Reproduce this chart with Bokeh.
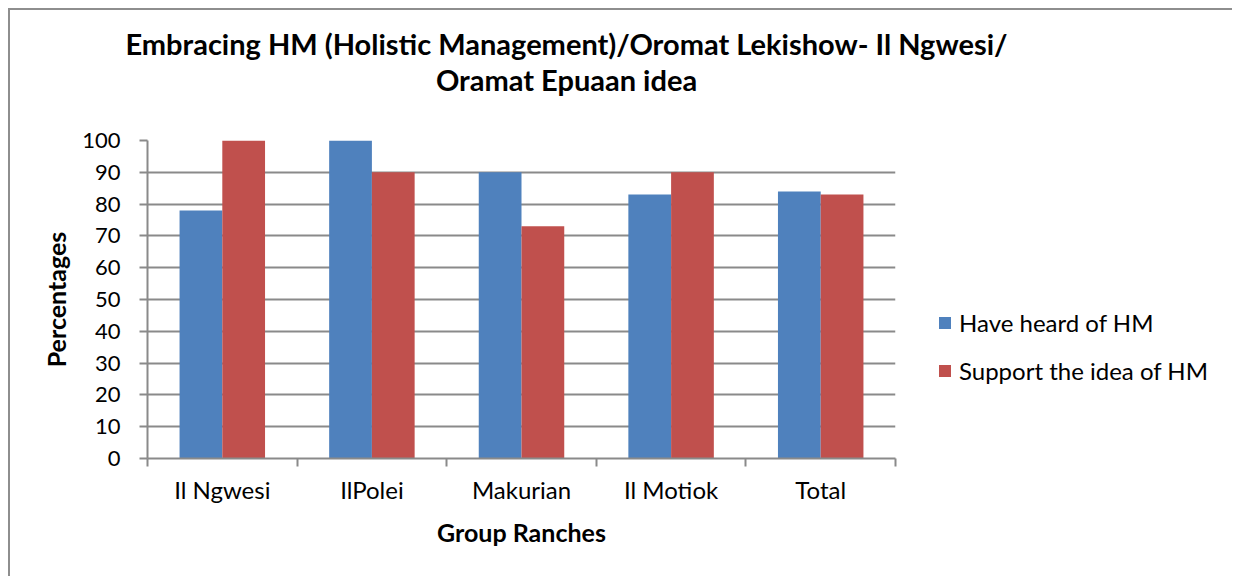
import numpy as np
from bokeh.plotting import figure
from bokeh.layouts import column, row
from bokeh.models import (Range1d, FixedTicker, SingleIntervalTicker, Legend, LegendItem, Label)
from bokeh.embed import file_html
from bokeh.resources import INLINE

# ---- data ----
categories = ["Il Ngwesi", "IlPolei", "Makurian", "Il Motiok", "Total"]
heard = [78, 100, 90, 83, 84]
support = [100, 90, 73, 90, 83]
series_names = ["Have heard of HM", "Support the idea of HM"]
title_lines = ["Embracing HM (Holistic Management)/Oromat Lekishow- Il Ngwesi/",
               "Oramat Epuaan idea"]

FONT = "Lato"
GRID = "#8a8a8a"
BLUE = "#4F81BD"
RED = "#C0504D"

n = len(categories)
centers = np.arange(n) + 0.5
bw = 1 / 3.5


def blank(width, height):
    f = figure(width=width, height=height, output_backend="svg", toolbar_location=None,
               x_range=Range1d(0, 1), y_range=Range1d(0, 1), tools="",
               x_axis_location=None, y_axis_location=None,
               min_border=0)
    f.outline_line_color = None
    f.grid.visible = False
    return f


# ---- title strip ----
TH = 100
tf = blank(1222, TH)
for i, line in enumerate(title_lines):
    tf.add_layout(Label(x=556, y=67 - 36 * i, x_units="screen", y_units="screen",
                        text=line, text_align="center", text_baseline="alphabetic",
                        text_font=FONT, text_font_style="bold", text_font_size="29px",
                        text_color="black"))

# ---- main chart ----
MH = 466
p = figure(width=895, height=MH, output_backend="svg", toolbar_location=None,
           x_range=Range1d(0, n), y_range=Range1d(0, 100),
           min_border_left=137, min_border_right=10,
           min_border_top=30, min_border_bottom=118,
           tools="")
p.outline_line_color = None

r1 = p.vbar(x=centers - bw / 2, top=heard, width=bw, fill_color=BLUE, line_color=None)
r2 = p.vbar(x=centers + bw / 2, top=support, width=bw, fill_color=RED, line_color=None)

# y axis
p.yaxis.ticker = SingleIntervalTicker(interval=10, num_minor_ticks=0)
p.yaxis.axis_line_color = GRID
p.yaxis.axis_line_width = 2
p.yaxis.major_tick_line_color = GRID
p.yaxis.major_tick_line_width = 2
p.yaxis.major_tick_out = 8
p.yaxis.major_tick_in = 0
p.yaxis.minor_tick_line_color = None
p.yaxis.major_label_text_font = FONT
p.yaxis.major_label_text_font_size = "22px"
p.yaxis.major_label_text_color = "black"
p.yaxis.major_label_standoff = 19
p.yaxis.axis_label = "Percentages"
p.yaxis.axis_label_text_font = FONT
p.yaxis.axis_label_text_font_style = "bold"
p.yaxis.axis_label_text_font_size = "25px"
p.yaxis.axis_label_text_color = "black"
p.yaxis.axis_label_standoff = 8

# x axis
p.xaxis.ticker = FixedTicker(ticks=list(centers), minor_ticks=list(np.arange(n + 1)))
p.xaxis.major_label_overrides = {float(c): lab for c, lab in zip(centers, categories)}
p.xaxis.axis_line_color = GRID
p.xaxis.axis_line_width = 2
p.xaxis.major_tick_line_color = None
p.xaxis.major_tick_out = 0
p.xaxis.major_tick_in = 0
p.xaxis.minor_tick_line_color = GRID
p.xaxis.minor_tick_line_width = 2
p.xaxis.minor_tick_out = 8
p.xaxis.minor_tick_in = 0
p.xaxis.major_label_text_font = FONT
p.xaxis.major_label_text_font_size = "24px"
p.xaxis.major_label_text_color = "black"
p.xaxis.major_label_standoff = 8
p.xaxis.axis_label = "Group Ranches"
p.xaxis.axis_label_text_font = FONT
p.xaxis.axis_label_text_font_style = "bold"
p.xaxis.axis_label_text_font_size = "25px"
p.xaxis.axis_label_text_color = "black"
p.xaxis.axis_label_standoff = 10

p.xgrid.grid_line_color = None
p.ygrid.grid_line_color = GRID
p.ygrid.grid_line_width = 2
p.ygrid.ticker = SingleIntervalTicker(interval=10, num_minor_ticks=0)

# ---- legend strip (its frame is aligned with the chart's frame) ----
lf = blank(327, MH)
lr1 = lf.vbar(x=centers - bw / 2, top=heard, width=bw, fill_color=BLUE, line_color=None,
              visible=False)
lr2 = lf.vbar(x=centers + bw / 2, top=support, width=bw, fill_color=RED, line_color=None,
              visible=False)
legend = Legend(items=[LegendItem(label=series_names[0], renderers=[lr1]),
                       LegendItem(label=series_names[1], renderers=[lr2])],
                location=(32, 73), orientation="vertical",
                glyph_width=15, glyph_height=15, label_height=30,
                label_standoff=7, spacing=18, padding=0, margin=0,
                border_line_color=None, background_fill_alpha=0,
                inactive_fill_alpha=0,
                label_text_font=FONT, label_text_font_size="24px",
                label_text_color="black")
lf.add_layout(legend, "center")

layout = column(tf, row(p, lf))
layout.styles = {"margin-left": "8px", "margin-top": "8px",
                 "border-top": "2px solid #8e8e8e", "border-left": "2px solid #8e8e8e"}

open("out.html", "w").write(file_html(layout, INLINE))
